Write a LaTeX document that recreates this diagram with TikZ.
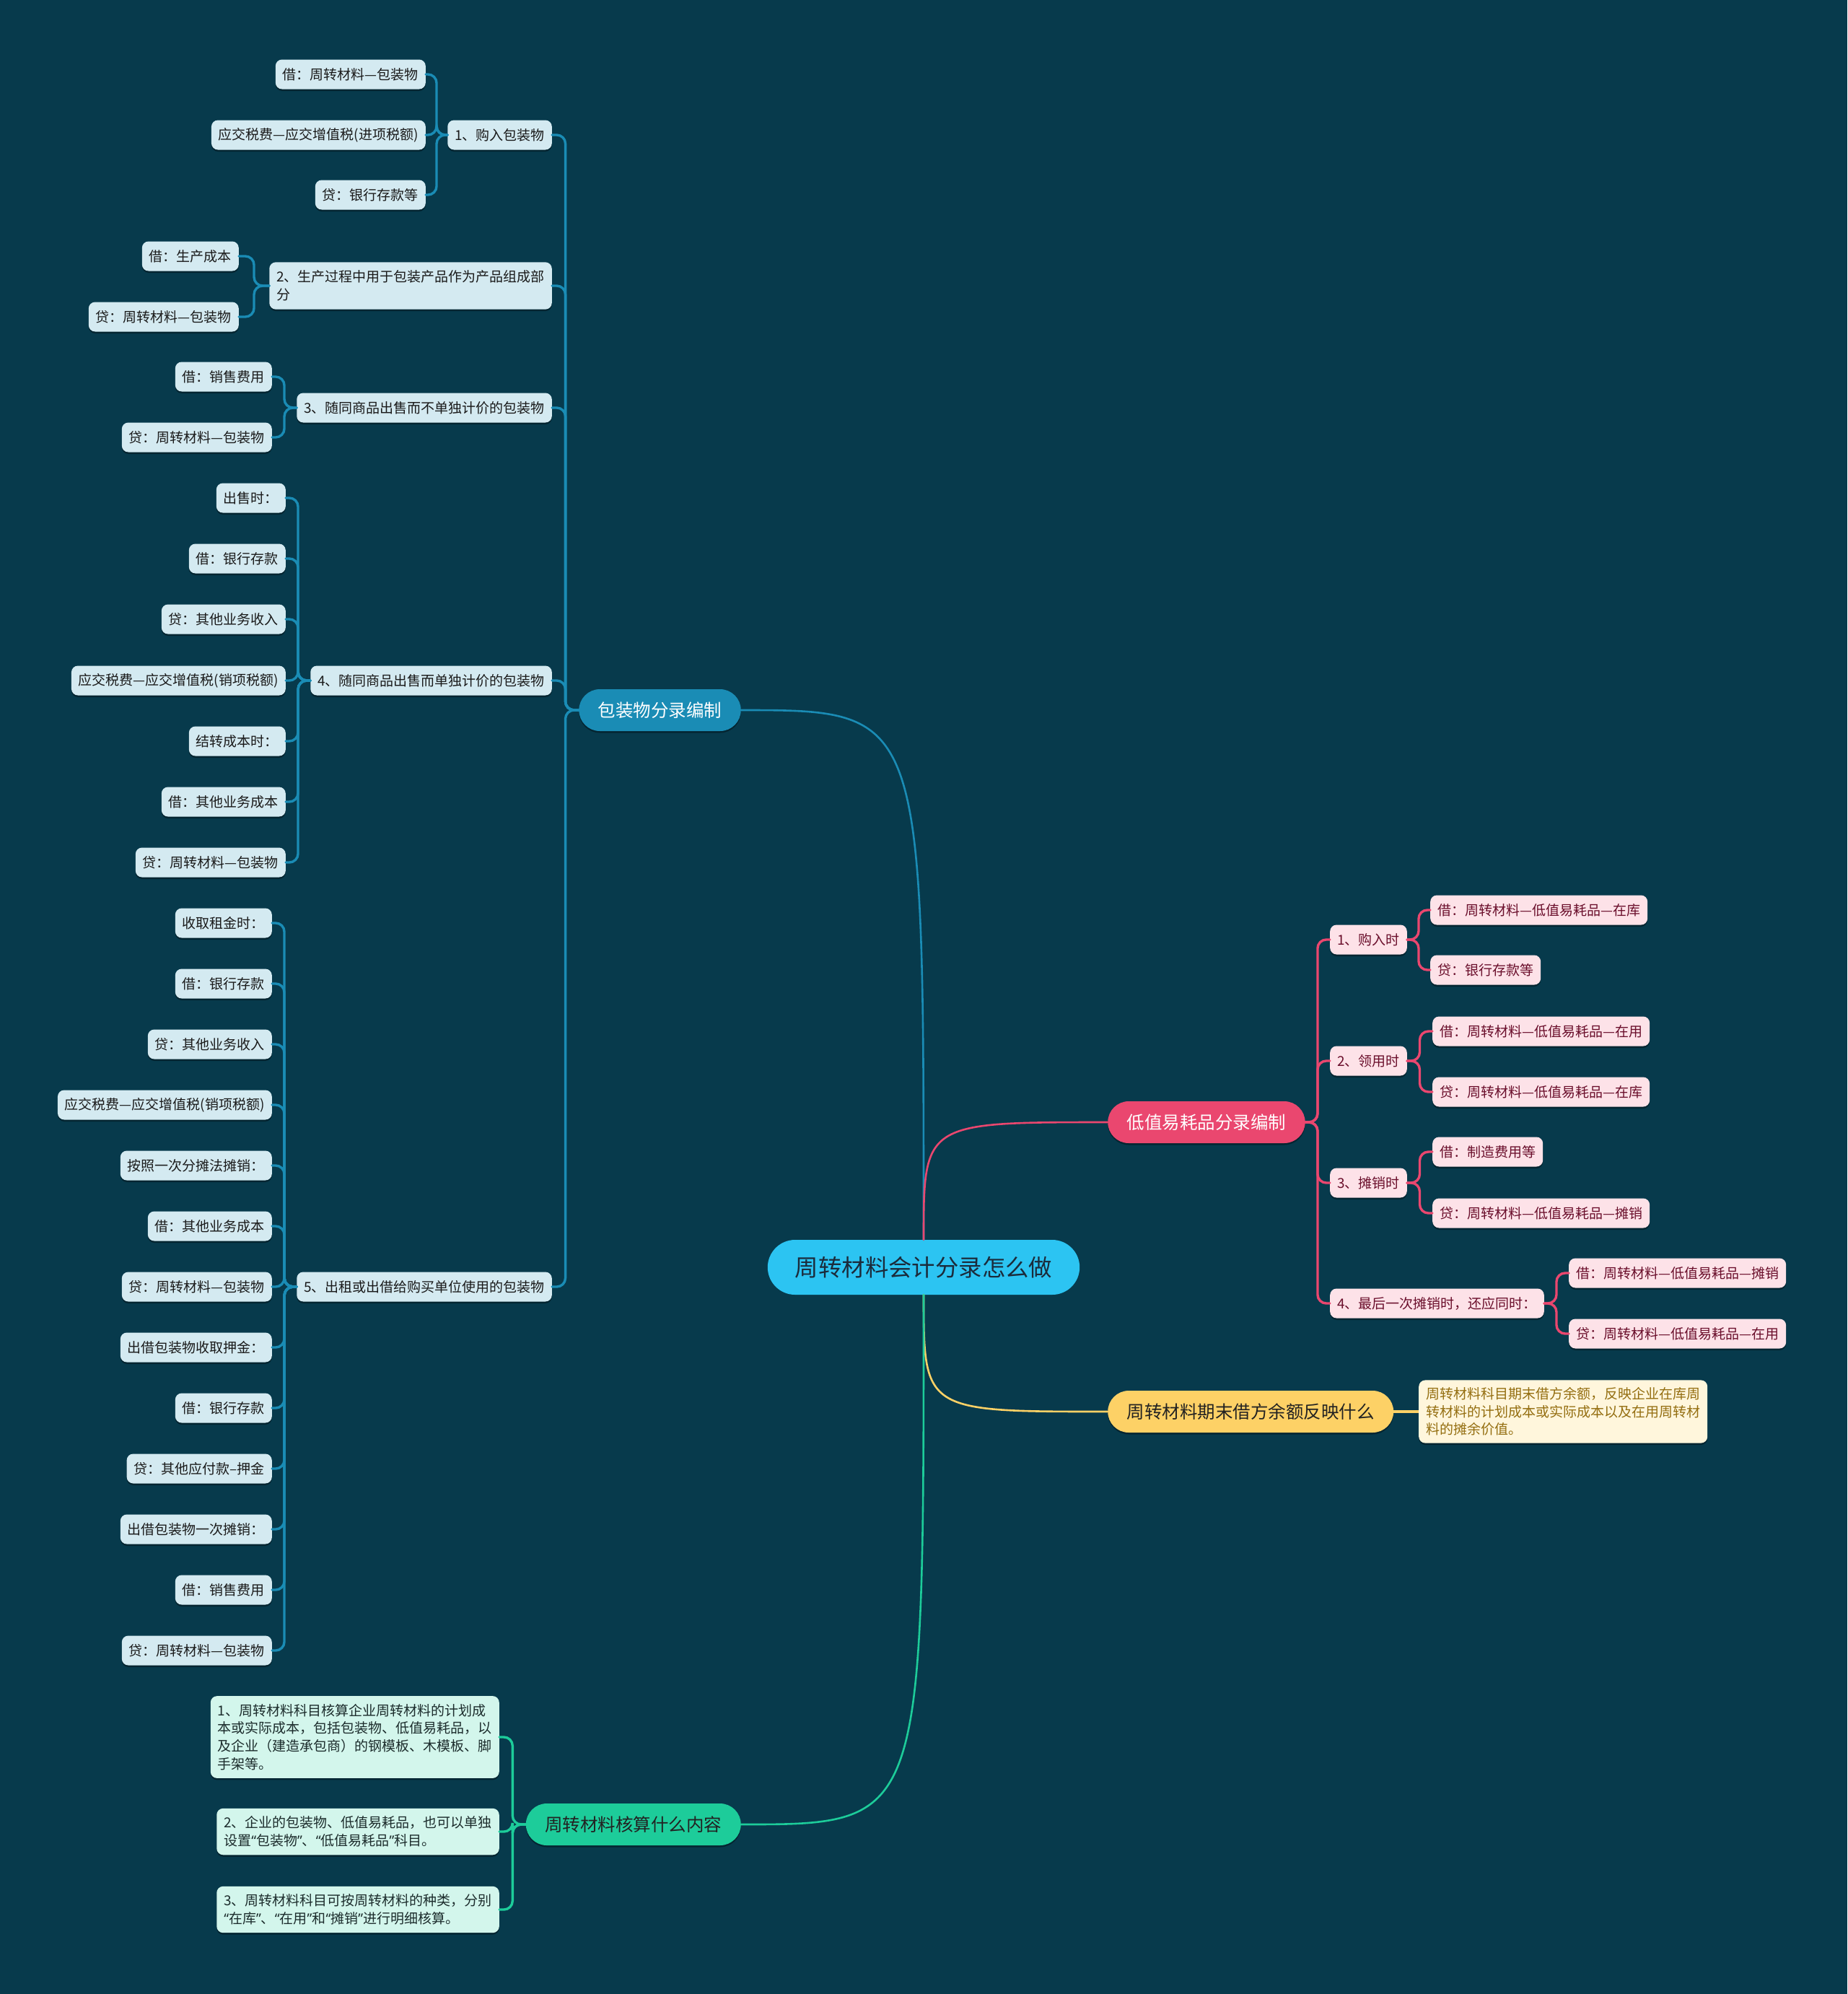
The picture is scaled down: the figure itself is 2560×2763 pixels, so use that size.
\documentclass[tikz,border=0pt]{standalone}
\usepackage{fontspec}
\setmainfont{Noto Sans CJK SC}
\newfontfamily\qtfont{Noto Sans}
\usetikzlibrary{calc,shadows}
\definecolor{bg}{HTML}{073A4C}
\definecolor{rootfill}{HTML}{2CC4F2}
\definecolor{roottext}{HTML}{1B2B3B}
\definecolor{cblue}{HTML}{1A8CB5}
\definecolor{cpink}{HTML}{EA476F}
\definecolor{cyel}{HTML}{FDD166}
\definecolor{cgreen}{HTML}{1DCC9A}
\definecolor{lbfill}{HTML}{D4EAF1}
\definecolor{lbtext}{HTML}{1A1A1A}
\definecolor{pbfill}{HTML}{FDE2E8}
\definecolor{pbtext}{HTML}{6A0E2B}
\definecolor{ybfill}{HTML}{FFF6DC}
\definecolor{ybtext}{HTML}{946E10}
\definecolor{gbfill}{HTML}{D3F6EC}
\definecolor{gbtext}{HTML}{1C2C2C}
\definecolor{darktext}{HTML}{222222}
\newcommand\myfS{\fontsize{19}{24.7}\selectfont}
\newcommand\myfM{\fontsize{24.5}{30}\selectfont}
\newcommand\myfL{\fontsize{32.4}{40}\selectfont}
\newcommand\myLq{{\qtfont “}}
\newcommand\myRq{{\qtfont ”}}
\tikzset{
  shd/.style={drop shadow={shadow xshift=0pt, shadow yshift=-2.5pt, opacity=0.35, fill=black}},
  rootbox/.style={fill=rootfill, text=roottext, rounded corners=38pt, minimum height=76pt, inner xsep=38pt, inner ysep=0pt, font=\myfL},
  mainbox/.style={shd, rounded corners=29pt, minimum height=58pt, inner xsep=26.5pt, inner ysep=0pt, font=\myfM},
  lbox/.style={shd, fill=lbfill, text=lbtext, rounded corners=9pt, inner xsep=10pt, inner ysep=0pt, minimum height=41pt, font=\myfS},
  pbox/.style={lbox, fill=pbfill, text=pbtext},
  ybox/.style={lbox, fill=ybfill, text=ybtext, align=left, inner ysep=10pt},
  gbox/.style={lbox, fill=gbfill, text=gbtext, align=left, inner ysep=11pt},
  elb/.style={to path={-- ($(\tikztostart)!0.5!(\tikztostart -| \tikztotarget)$) |- (\tikztotarget)}},
  subline/.style={line width=3.4pt, line cap=round, rounded corners=12pt},
  mainline/.style={line width=2.6pt, line cap=round},
}
\begin{document}
\begin{tikzpicture}[x=1pt,y=-1pt]
\fill[bg] (0,0) rectangle (2560,2763);
\useasboundingbox (0,0) rectangle (2560,2763);

% root and main branches
\node[rootbox] (root) at (1280,1756) {周转材料会计分录怎么做};
\node[mainbox, fill=cblue, text=white, anchor=east] (pk) at (1027,984) {包装物分录编制};
\node[mainbox, fill=cpink, text=white, anchor=west] (dz) at (1535,1555) {低值易耗品分录编制};
\node[mainbox, fill=cyel, text=darktext, anchor=west] (qm) at (1535,1956) {周转材料期末借方余额反映什么};
\node[mainbox, fill=cgreen, text=darktext, anchor=east] (hs) at (1027,2528) {周转材料核算什么内容};

\draw[mainline, cblue] (root.north) .. controls (root.north |- pk.east) .. (pk.east);
\draw[mainline, cpink] (root.north) .. controls (root.north |- dz.west) .. (dz.west);
\draw[mainline, cyel] (root.south) .. controls (root.south |- qm.west) .. (qm.west);
\draw[mainline, cgreen] (root.south) .. controls (root.south |- hs.east) .. (hs.east);

% ---------- blue branch ----------
\node[lbox, anchor=east] (b1) at (765,187) {1、购入包装物};
\node[lbox, anchor=east, align=left, inner ysep=11.5pt] (b2) at (765,396) {2、生产过程中用于包装产品作为产品组成部\\分};
\node[lbox, anchor=east] (b3) at (765,565) {3、随同商品出售而不单独计价的包装物};
\node[lbox, anchor=east] (b4) at (765,943) {4、随同商品出售而单独计价的包装物};
\node[lbox, anchor=east] (b5) at (765,1783) {5、出租或出借给购买单位使用的包装物};

\node[lbox, anchor=east] (b11) at (590,103) {借：周转材料—包装物};
\node[lbox, anchor=east] (b12) at (590,187) {应交税费—应交增值税(进项税额)};
\node[lbox, anchor=east] (b13) at (590,270) {贷：银行存款等};

\node[lbox, anchor=east] (b21) at (331,355) {借：生产成本};
\node[lbox, anchor=east] (b22) at (331,439) {贷：周转材料—包装物};

\node[lbox, anchor=east] (b31) at (377,522) {借：销售费用};
\node[lbox, anchor=east] (b32) at (377,606) {贷：周转材料—包装物};

\node[lbox, anchor=east] (b41) at (396,690) {出售时：};
\node[lbox, anchor=east] (b42) at (396,774) {借：银行存款};
\node[lbox, anchor=east] (b43) at (396,858) {贷：其他业务收入};
\node[lbox, anchor=east] (b44) at (396,943) {应交税费—应交增值税(销项税额)};
\node[lbox, anchor=east] (b45) at (396,1027) {结转成本时：};
\node[lbox, anchor=east] (b46) at (396,1111) {借：其他业务成本};
\node[lbox, anchor=east] (b47) at (396,1195) {贷：周转材料—包装物};

\node[lbox, anchor=east] (b51) at (377,1279) {收取租金时：};
\node[lbox, anchor=east] (b52) at (377,1363) {借：银行存款};
\node[lbox, anchor=east] (b53) at (377,1447) {贷：其他业务收入};
\node[lbox, anchor=east] (b54) at (377,1531) {应交税费—应交增值税(销项税额)};
\node[lbox, anchor=east] (b55) at (377,1615) {按照一次分摊法摊销：};
\node[lbox, anchor=east] (b56) at (377,1699) {借：其他业务成本};
\node[lbox, anchor=east] (b57) at (377,1783) {贷：周转材料—包装物};
\node[lbox, anchor=east] (b58) at (377,1867) {出借包装物收取押金：};
\node[lbox, anchor=east] (b59) at (377,1951) {借：银行存款};
\node[lbox, anchor=east] (b5a) at (377,2035) {贷：其他应付款–押金};
\node[lbox, anchor=east] (b5b) at (377,2119) {出借包装物一次摊销：};
\node[lbox, anchor=east] (b5c) at (377,2203) {借：销售费用};
\node[lbox, anchor=east] (b5d) at (377,2287) {贷：周转材料—包装物};

\begin{scope}[subline, cblue]
\foreach \c in {b1,b2,b3,b4,b5} \draw (pk.west) to[elb] (\c.east);
\foreach \c in {b11,b12,b13} \draw (b1.west) to[elb] (\c.east);
\foreach \c in {b21,b22} \draw (b2.west) to[elb] (\c.east);
\foreach \c in {b31,b32} \draw (b3.west) to[elb] (\c.east);
\foreach \c in {b41,b42,b43,b44,b45,b46,b47} \draw (b4.west) to[elb] (\c.east);
\foreach \c in {b51,b52,b53,b54,b55,b56,b57,b58,b59,b5a,b5b,b5c,b5d} \draw (b5.west) to[elb] (\c.east);
\end{scope}

% ---------- pink branch ----------
\node[pbox, anchor=west] (p1) at (1843,1302) {1、购入时};
\node[pbox, anchor=west] (p2) at (1843,1470) {2、领用时};
\node[pbox, anchor=west] (p3) at (1843,1639) {3、摊销时};
\node[pbox, anchor=west] (p4) at (1843,1806) {4、最后一次摊销时，还应同时：};

\node[pbox, anchor=west] (p11) at (1982,1261) {借：周转材料—低值易耗品—在库};
\node[pbox, anchor=west] (p12) at (1982,1344) {贷：银行存款等};
\node[pbox, anchor=west] (p21) at (1985,1429) {借：周转材料—低值易耗品—在用};
\node[pbox, anchor=west] (p22) at (1985,1513) {贷：周转材料—低值易耗品—在库};
\node[pbox, anchor=west] (p31) at (1985,1596) {借：制造费用等};
\node[pbox, anchor=west] (p32) at (1985,1681) {贷：周转材料—低值易耗品—摊销};
\node[pbox, anchor=west] (p41) at (2174,1764) {借：周转材料—低值易耗品—摊销};
\node[pbox, anchor=west] (p42) at (2174,1848) {贷：周转材料—低值易耗品—在用};

\begin{scope}[subline, cpink]
\foreach \c in {p1,p2,p3,p4} \draw (dz.east) to[elb] (\c.west);
\foreach \c in {p11,p12} \draw (p1.east) to[elb] (\c.west);
\foreach \c in {p21,p22} \draw (p2.east) to[elb] (\c.west);
\foreach \c in {p31,p32} \draw (p3.east) to[elb] (\c.west);
\foreach \c in {p41,p42} \draw (p4.east) to[elb] (\c.west);
\end{scope}

% ---------- yellow branch ----------
\node[ybox, anchor=west] (q1) at (1966,1956) {周转材料科目期末借方余额，反映企业在库周\\转材料的计划成本或实际成本以及在用周转材\\料的摊余价值。};
\draw[line width=3.4pt, cyel] (qm.east) -- (q1.west);

% ---------- green branch ----------
\node[gbox, anchor=east] (g1) at (692,2407) {1、周转材料科目核算企业周转材料的计划成\\本或实际成本，包括包装物、低值易耗品，以\\及企业（建造承包商）的钢模板、木模板、脚\\手架等。};
\node[gbox, anchor=east] (g2) at (692,2538) {2、企业的包装物、低值易耗品，也可以单独\\设置\myLq 包装物\myRq 、\myLq 低值易耗品\myRq 科目。};
\node[gbox, anchor=east] (g3) at (692,2646) {3、周转材料科目可按周转材料的种类，分别\\\myLq 在库\myRq 、\myLq 在用\myRq 和\myLq 摊销\myRq 进行明细核算。};

\begin{scope}[subline, cgreen]
\foreach \c in {g1,g2,g3} \draw (hs.west) to[elb] (\c.east);
\end{scope}
\end{tikzpicture}
\end{document}
